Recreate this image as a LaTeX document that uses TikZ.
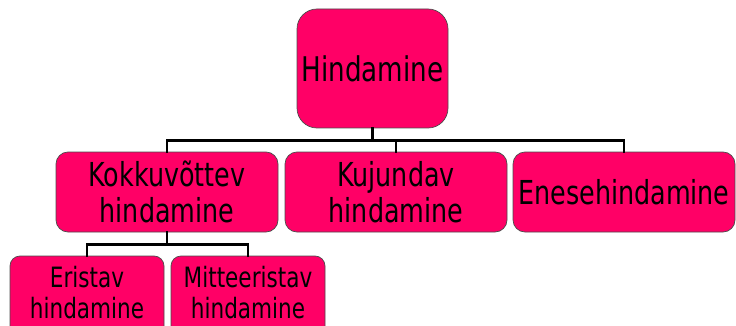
\documentclass[tikz,border=0pt]{standalone}
\usepackage{fontspec}
\setmainfont{DejaVu Sans}[FakeStretch=0.77]
\usepackage{tikz}
\usetikzlibrary{calc,positioning}
\definecolor{hpink}{HTML}{FF0066}
\tikzset{
  box/.style={draw=black!70, line width=0.7pt, fill=hpink, align=center,
    inner sep=0pt},
  link/.style={line width=2.6pt, line cap=rect}
}
\begin{document}
\begin{tikzpicture}[x=1pt,y=-1pt]
  \useasboundingbox (0,0) rectangle (736,326);
  \node[box, rounded corners=20pt, minimum width=151pt, minimum height=119pt,
    font=\fontsize{34}{40}\selectfont] (hind) at (372.5,68.5) {Hindamine};
  \node[box, rounded corners=12pt, minimum width=222pt, minimum height=80pt,
    font=\fontsize{33}{36}\selectfont] (kokk) at (167,192) {Kokkuvõttev\\hindamine};
  \node[box, rounded corners=12pt, minimum width=222pt, minimum height=80pt,
    font=\fontsize{33}{36}\selectfont] (kuju) at (396,192) {Kujundav\\hindamine};
  \node[box, rounded corners=12pt, minimum width=222pt, minimum height=80pt,
    font=\fontsize{33}{36}\selectfont] (enes) at (624,192) {Enesehindamine};
  \node[box, rounded corners=10pt, minimum width=154pt, minimum height=80pt,
    text depth=8pt, font=\fontsize{28}{31}\selectfont] (eris) at (87,296) {Eristav\\hindamine};
  \node[box, rounded corners=10pt, minimum width=154pt, minimum height=80pt,
    text depth=8pt, font=\fontsize{28}{31}\selectfont] (mitt) at (248,296) {Mitteeristav\\hindamine};
  % joints
  \coordinate (j1) at ([yshift=-12pt]hind.south);
  \coordinate (j2) at ([yshift=-12pt]kokk.south);
  \draw[link] (hind.south)--(j1);
  \draw[link] (kokk.north) |- (j1) -| (enes.north);
  \draw[link] (kuju.north)--(kuju.north |- j1);
  \draw[link] (kokk.south)--(j2);
  \draw[link] (eris.north) |- (j2) -| (mitt.north);
\end{tikzpicture}
\end{document}
